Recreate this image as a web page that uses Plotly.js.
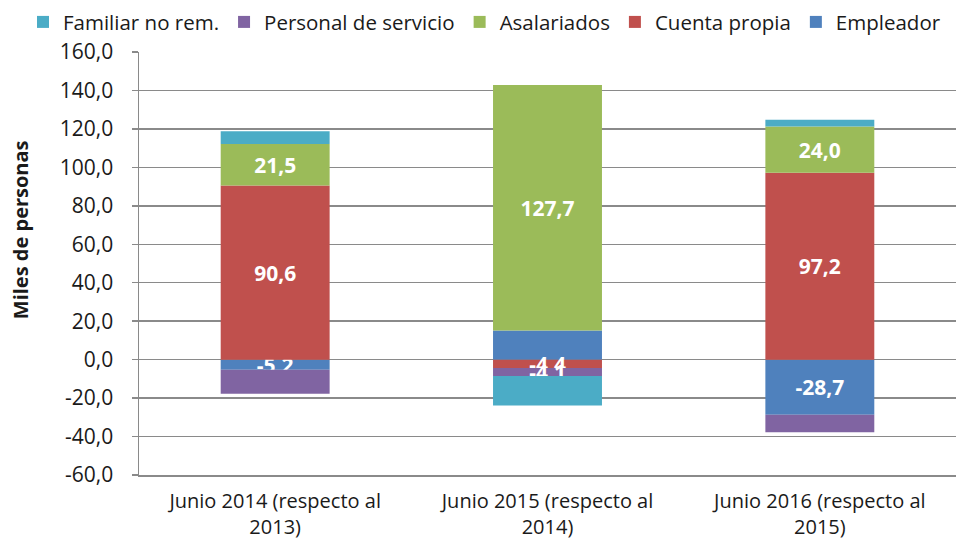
<!DOCTYPE html>
<html>
<head>
<meta charset="utf-8">
<script src="https://cdn.plot.ly/plotly-3.0.1.min.js"></script>
<style>html,body{margin:0;padding:0;background:#fff;}#chart{width:956px;height:548px;}</style>
</head>
<body>
<div id="chart"></div>
<script>
// ---- data ----
const categories = [
  "Junio 2014 (respecto al<br>2013)",
  "Junio 2015 (respecto al<br>2014)",
  "Junio 2016 (respecto al<br>2015)"
];
const seriesNames = ["Empleador", "Cuenta propia", "Asalariados", "Personal de servicio", "Familiar no rem."];
const empleador = [-5.2, 15.2, -28.7];
const cuentaPropia = [90.6, -4.4, 97.2];
const asalariados = [21.5, 127.7, 24.0];
const personalServicio = [-12.6, -4.1, -9.1];
const familiarNoRem = [6.7, -15.4, 3.5];
// which points carry a data label
const showEmpleador = [true, false, true];
const showCuenta = [true, true, true];
const showAsal = [true, true, true];
const showPersonal = [false, true, false];
const showFamiliar = [false, false, false];
const yTickVals = [-60, -40, -20, 0, 20, 40, 60, 80, 100, 120, 140, 160];

const colors = ["#4F81BD", "#C0504D", "#9BBB59", "#8064A2", "#4BACC6"];
const fmt = v => v.toFixed(1).replace(".", ",");
const FONT = "Open Sans";
const TXT = "#1a1a1a";

const allVals = [empleador, cuentaPropia, asalariados, personalServicio, familiarNoRem];
const allShow = [showEmpleador, showCuenta, showAsal, showPersonal, showFamiliar];

const traces = allVals.map((vals, i) => ({
  type: "bar",
  name: seriesNames[i],
  x: categories,
  y: vals,
  text: vals.map((v, j) => allShow[i][j] ? fmt(v) : ""),
  textposition: "inside",
  insidetextanchor: "middle",
  constraintext: "none",
  textangle: 0,
  textfont: {family: FONT, size: 21, color: "#ffffff", weight: "bold"},
  marker: {color: colors[i], line: {width: 0}},
  hoverinfo: "skip"
}));

const gridColor = "#8a8a8a";
const layout = {
  width: 956, height: 548,
  margin: {l: 139, r: 0, t: 52, b: 73},
  barmode: "relative",
  bargap: 0.6,
  paper_bgcolor: "#ffffff",
  plot_bgcolor: "#ffffff",
  font: {family: FONT, size: 21, color: TXT},
  showlegend: true,
  legend: {
    orientation: "h", traceorder: "reversed",
    x: -0.142, xanchor: "left", y: 1.118, yanchor: "top",
    font: {family: FONT, size: 20.5, color: TXT},
    itemwidth: 30, tracegroupgap: 0
  },
  xaxis: {
    type: "category",
    range: [-0.5, 2.5],
    showgrid: false, zeroline: false,
    showline: true, linecolor: gridColor, linewidth: 1.5,
    ticks: "", tickfont: {family: FONT, size: 20, color: TXT},
    ticklabelstandoff: 7
  },
  xaxis2: {
    overlaying: "x", anchor: "free", position: 60 / 220,
    type: "linear", range: [-0.5, 2.5], layer: "below traces",
    tickvals: [0.5, 1.5], ticks: "outside", ticklen: 7, tickcolor: gridColor, tickwidth: 1.5,
    showticklabels: false, showgrid: false, zeroline: false,
    showline: true, linecolor: gridColor, linewidth: 1.5
  },
  yaxis: {
    range: [-60, 160],
    tickvals: yTickVals,
    ticktext: yTickVals.map(fmt),
    showgrid: true, gridcolor: gridColor, gridwidth: 1.5,
    zeroline: false,
    showline: true, linecolor: gridColor, linewidth: 1.5,
    ticks: "outside", ticklen: 6, tickcolor: gridColor, tickwidth: 1.5,
    tickfont: {family: FONT, size: 21, color: TXT},
    ticklabelstandoff: 14
  },
  annotations: [{
    text: "Miles de personas", textangle: -90,
    xref: "paper", yref: "paper", x: -0.145, y: 0.58,
    xanchor: "center", yanchor: "middle", showarrow: false,
    font: {family: FONT, size: 20, color: TXT, weight: "bold"}
  }]
};

Plotly.newPlot("chart", traces, layout, {displayModeBar: false, staticPlot: true});
</script>
</body>
</html>
